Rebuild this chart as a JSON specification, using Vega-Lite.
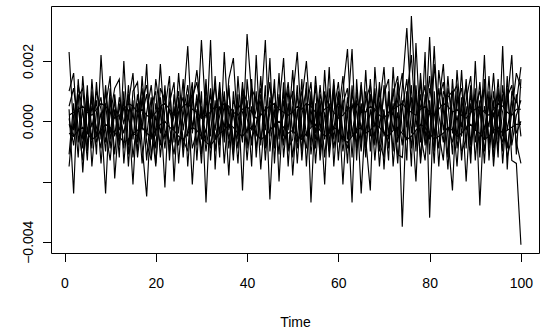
{
"$schema": "https://vega.github.io/schema/vega-lite/v6.json",
"width": 488, "height": 247,
"autosize": "none",
"padding": {"left": 51, "top": 6, "right": 11, "bottom": 82},
"background": "white",
"config": {"view": {"stroke": "black", "strokeWidth": 1}, "font": "Liberation Sans",
 "axis": {"grid": false, "domain": false, "tickColor": "black", "tickWidth": 1, "tickSize": 8.5, "labelColor": "black", "labelFontSize": 14, "titleFontSize": 14, "titleColor": "black", "titleFontWeight": "normal", "labelFont": "Liberation Sans", "titleFont": "Liberation Sans"}},
"data": {"values": [
{"t":1,"a":0.0023,"b":0.0010,"c":0.0004,"d":-0.0011,"e":0.0001,"f":-0.0015,"g":0.0005,"h":-0.0001,"i":-0.0004,"j":0.0002},
{"t":2,"a":-0.0003,"b":0.0016,"c":-0.0024,"d":0.0006,"e":-0.0008,"f":0.0002,"g":0.0011,"h":-0.0005,"i":-0.0005,"j":0.0003},
{"t":3,"a":0.0009,"b":-0.0007,"c":0.0014,"d":-0.0012,"e":0.0005,"f":0.0008,"g":-0.0002,"h":0.0012,"i":-0.0003,"j":0.0004},
{"t":4,"a":-0.0017,"b":0.0004,"c":-0.0006,"d":0.0015,"e":-0.0009,"f":0.0011,"g":-0.0013,"h":0.0003,"i":-0.0002,"j":0.0005},
{"t":5,"a":0.0006,"b":-0.0013,"c":0.0009,"d":-0.0004,"e":0.0012,"f":-0.0008,"g":0.0007,"h":-0.0010,"i":-0.0004,"j":0.0003},
{"t":6,"a":-0.0009,"b":0.0014,"c":-0.0002,"d":0.0008,"e":-0.0015,"f":0.0005,"g":-0.0006,"h":0.0010,"i":-0.0006,"j":0.0002},
{"t":7,"a":0.0013,"b":-0.0005,"c":0.0007,"d":-0.0011,"e":0.0003,"f":-0.0002,"g":0.0010,"h":-0.0007,"i":-0.0005,"j":0.0004},
{"t":8,"a":-0.0006,"b":0.0003,"c":-0.0014,"d":0.0022,"e":0.0008,"f":-0.0009,"g":0.0004,"h":-0.0002,"i":-0.0003,"j":0.0006},
{"t":9,"a":0.0010,"b":-0.0024,"c":0.0005,"d":-0.0003,"e":-0.0007,"f":0.0012,"g":-0.0010,"h":0.0006,"i":-0.0001,"j":0.0005},
{"t":10,"a":-0.0004,"b":0.0008,"c":0.0015,"d":-0.0013,"e":0.0002,"f":-0.0006,"g":0.0011,"h":-0.0009,"i":-0.0002,"j":0.0003},
{"t":11,"a":0.0007,"b":-0.0011,"c":-0.0019,"d":0.0004,"e":0.0011,"f":0.0003,"g":-0.0005,"h":0.0009,"i":-0.0004,"j":0.0001},
{"t":12,"a":-0.0012,"b":0.0006,"c":0.0002,"d":-0.0008,"e":0.0014,"f":-0.0003,"g":0.0008,"h":-0.0006,"i":-0.0005,"j":0.0002},
{"t":13,"a":0.0020,"b":-0.0009,"c":-0.0004,"d":0.0010,"e":-0.0014,"f":0.0007,"g":-0.0001,"h":0.0005,"i":-0.0007,"j":0.0004},
{"t":14,"a":-0.0008,"b":0.0012,"c":0.0006,"d":-0.0015,"e":0.0004,"f":-0.0011,"g":0.0009,"h":0.0001,"i":-0.0006,"j":0.0006},
{"t":15,"a":0.0003,"b":-0.0006,"c":0.0016,"d":0.0007,"e":-0.0021,"f":0.0010,"g":-0.0012,"h":-0.0004,"i":-0.0004,"j":0.0005},
{"t":16,"a":-0.0010,"b":0.0009,"c":-0.0007,"d":-0.0012,"e":0.0006,"f":0.0013,"g":0.0002,"h":-0.0005,"i":-0.0003,"j":0.0003},
{"t":17,"a":0.0015,"b":-0.0003,"c":0.0008,"d":0.0002,"e":-0.0014,"f":-0.0008,"g":0.0011,"h":0.0007,"i":-0.0002,"j":0.0004},
{"t":18,"a":-0.0005,"b":0.0019,"c":-0.0013,"d":0.0009,"e":0.0003,"f":-0.0025,"g":-0.0007,"h":0.0012,"i":-0.0004,"j":0.0002},
{"t":19,"a":0.0008,"b":-0.0012,"c":0.0005,"d":-0.0006,"e":0.0012,"f":0.0004,"g":-0.0013,"h":-0.0001,"i":-0.0005,"j":0.0001},
{"t":20,"a":-0.0014,"b":0.0002,"c":0.0010,"d":0.0014,"e":-0.0005,"f":-0.0009,"g":0.0006,"h":-0.0015,"i":-0.0003,"j":0.0003},
{"t":21,"a":0.0005,"b":-0.0008,"c":-0.0012,"d":0.0003,"e":0.0019,"f":0.0011,"g":-0.0004,"h":0.0008,"i":-0.0001,"j":0.0005},
{"t":22,"a":-0.0022,"b":0.0012,"c":0.0004,"d":-0.0009,"e":-0.0003,"f":0.0007,"g":0.0010,"h":-0.0006,"i":0,"j":0.0006},
{"t":23,"a":0.0011,"b":-0.0013,"c":0.0015,"d":0.0006,"e":-0.0007,"f":-0.0002,"g":-0.0010,"h":0.0004,"i":-0.0002,"j":0.0004},
{"t":24,"a":-0.0007,"b":0.0009,"c":-0.0020,"d":0.0013,"e":0.0002,"f":-0.0011,"g":0.0005,"h":-0.0003,"i":-0.0003,"j":0.0002},
{"t":25,"a":0.0016,"b":-0.0004,"c":0.0008,"d":-0.0014,"e":0.0010,"f":0.0003,"g":-0.0008,"h":0.0006,"i":-0.0005,"j":0.0003},
{"t":26,"a":-0.0003,"b":0.0014,"c":-0.0009,"d":0.0005,"e":-0.0012,"f":0.0008,"g":0.0002,"h":-0.0006,"i":-0.0006,"j":0.0005},
{"t":27,"a":0.0009,"b":-0.0015,"c":0.0003,"d":0.0025,"e":0.0007,"f":-0.0005,"g":0.0012,"h":-0.0010,"i":-0.0004,"j":0.0006},
{"t":28,"a":-0.0021,"b":0.0006,"c":0.0013,"d":-0.0004,"e":-0.0009,"f":0.0011,"g":-0.0002,"h":0.0008,"i":-0.0002,"j":0.0004},
{"t":29,"a":0.0004,"b":0.0017,"c":-0.0013,"d":0.0009,"e":-0.0003,"f":-0.0008,"g":0.0007,"h":0.0013,"i":-0.0003,"j":0.0003},
{"t":30,"a":-0.0014,"b":0.0003,"c":0.0010,"d":-0.0006,"e":0.0027,"f":0.0005,"g":-0.0011,"h":0.0002,"i":-0.0005,"j":0.0001},
{"t":31,"a":0.0012,"b":-0.0007,"c":-0.0027,"d":0.0014,"e":0.0001,"f":-0.0010,"g":0.0008,"h":-0.0004,"i":-0.0007,"j":0.0002},
{"t":32,"a":-0.0005,"b":0.0027,"c":0.0006,"d":-0.0013,"e":0.0009,"f":0.0003,"g":-0.0009,"h":0.0011,"i":-0.0008,"j":0.0003},
{"t":33,"a":0.0015,"b":-0.0016,"c":-0.0003,"d":0.0007,"e":-0.0010,"f":0.0012,"g":0.0004,"h":-0.0006,"i":-0.0006,"j":0.0005},
{"t":34,"a":-0.0008,"b":0.0011,"c":0.0013,"d":-0.0012,"e":0.0005,"f":-0.0004,"g":0.0009,"h":0.0002,"i":-0.0004,"j":0.0004},
{"t":35,"a":0.0006,"b":-0.0014,"c":-0.0007,"d":0.0023,"e":-0.0002,"f":0.0010,"g":-0.0005,"h":0.0008,"i":-0.0003,"j":0.0006},
{"t":36,"a":-0.0018,"b":0.0005,"c":0.0014,"d":-0.0003,"e":0.0011,"f":-0.0009,"g":0.0012,"h":-0.0006,"i":-0.0001,"j":0.0005},
{"t":37,"a":0.0010,"b":-0.0013,"c":0.0021,"d":0.0004,"e":-0.0008,"f":0.0007,"g":-0.0011,"h":0.0003,"i":-0.0002,"j":0.0003},
{"t":38,"a":-0.0006,"b":0.0015,"c":-0.0004,"d":-0.0014,"e":0.0009,"f":0.0002,"g":0.0006,"h":-0.0009,"i":-0.0004,"j":0.0002},
{"t":39,"a":0.0013,"b":-0.0005,"c":0.0008,"d":0.0011,"e":-0.0023,"f":-0.0007,"g":0.0003,"h":0.0010,"i":-0.0005,"j":0.0004},
{"t":40,"a":-0.0009,"b":0.0007,"c":-0.0013,"d":0.0006,"e":0.0014,"f":0.0029,"g":-0.0004,"h":0.0001,"i":-0.0003,"j":0.0005},
{"t":41,"a":0.0014,"b":-0.0015,"c":0.0005,"d":-0.0008,"e":-0.0003,"f":0.0009,"g":0.0011,"h":-0.0006,"i":-0.0002,"j":0.0003},
{"t":42,"a":-0.0012,"b":0.0022,"c":-0.0005,"d":0.0010,"e":0.0004,"f":-0.0009,"g":0.0007,"h":-0.0001,"i":-0.0004,"j":0.0001},
{"t":43,"a":0.0007,"b":-0.0008,"c":0.0015,"d":-0.0016,"e":0.0011,"f":0.0003,"g":-0.0006,"h":0.0009,"i":-0.0006,"j":0.0002},
{"t":44,"a":-0.0003,"b":0.0012,"c":-0.0009,"d":0.0005,"e":-0.0013,"f":0.0027,"g":0.0002,"h":-0.0007,"i":-0.0005,"j":0.0004},
{"t":45,"a":0.0021,"b":-0.0026,"c":0.0006,"d":-0.0005,"e":0.0008,"f":-0.0010,"g":0.0013,"h":0.0003,"i":-0.0003,"j":0.0005},
{"t":46,"a":-0.0014,"b":0.0004,"c":-0.0007,"d":0.0014,"e":-0.0002,"f":0.0006,"g":-0.0009,"h":0.0011,"i":-0.0001,"j":0.0006},
{"t":47,"a":0.0009,"b":-0.0011,"c":0.0016,"d":-0.0020,"e":0.0005,"f":-0.0004,"g":0.0008,"h":-0.0006,"i":0,"j":0.0004},
{"t":48,"a":-0.0005,"b":0.0013,"c":-0.0012,"d":0.0007,"e":0.0021,"f":0.0002,"g":-0.0008,"h":0.0010,"i":-0.0002,"j":0.0003},
{"t":49,"a":0.0011,"b":-0.0015,"c":0.0004,"d":-0.0003,"e":-0.0009,"f":0.0013,"g":0.0006,"h":-0.0010,"i":-0.0004,"j":0.0002},
{"t":50,"a":-0.0018,"b":0.0008,"c":0.0010,"d":0.0017,"e":-0.0006,"f":-0.0004,"g":-0.0012,"h":0.0005,"i":-0.0003,"j":0.0003},
{"t":51,"a":0.0004,"b":0.0023,"c":-0.0014,"d":-0.0007,"e":0.0012,"f":0.0009,"g":0.0003,"h":-0.0009,"i":-0.0005,"j":0.0005},
{"t":52,"a":-0.0010,"b":-0.0003,"c":0.0007,"d":0.0014,"e":-0.0013,"f":-0.0006,"g":0.0010,"h":0.0002,"i":-0.0006,"j":0.0004},
{"t":53,"a":0.0013,"b":-0.0009,"c":0.0020,"d":-0.0015,"e":0.0006,"f":0.0004,"g":-0.0005,"h":0.0011,"i":-0.0004,"j":0.0006},
{"t":54,"a":-0.0027,"b":0.0010,"c":-0.0002,"d":0.0008,"e":-0.0008,"f":0.0013,"g":0.0004,"h":-0.0011,"i":-0.0002,"j":0.0005},
{"t":55,"a":0.0006,"b":-0.0014,"c":0.0012,"d":-0.0004,"e":0.0015,"f":-0.0009,"g":-0.0006,"h":0.0003,"i":-0.0001,"j":0.0003},
{"t":56,"a":-0.0011,"b":0.0005,"c":-0.0013,"d":0.0012,"e":-0.0003,"f":0.0007,"g":0.0009,"h":-0.0008,"i":-0.0003,"j":0.0002},
{"t":57,"a":0.0017,"b":-0.0021,"c":0.0003,"d":-0.0006,"e":0.0010,"f":-0.0012,"g":0.0002,"h":0.0009,"i":-0.0005,"j":0.0004},
{"t":58,"a":-0.0008,"b":0.0011,"c":-0.0004,"d":0.0018,"e":-0.0012,"f":0.0006,"g":-0.0010,"h":0.0005,"i":-0.0004,"j":0.0005},
{"t":59,"a":0.0010,"b":-0.0006,"c":0.0014,"d":-0.0015,"e":0.0003,"f":-0.0009,"g":0.0012,"h":-0.0003,"i":-0.0002,"j":0.0003},
{"t":60,"a":-0.0013,"b":0.0008,"c":-0.0007,"d":0.0005,"e":0.0013,"f":0.0002,"g":-0.0005,"h":0.0010,"i":-0.0003,"j":0.0001},
{"t":61,"a":0.0007,"b":-0.0021,"c":0.0010,"d":-0.0010,"e":-0.0004,"f":0.0015,"g":0.0006,"h":-0.0007,"i":-0.0006,"j":0.0002},
{"t":62,"a":-0.0014,"b":0.0005,"c":0.0024,"d":0.0003,"e":-0.0009,"f":-0.0006,"g":0.0011,"h":0.0008,"i":-0.0007,"j":0.0004},
{"t":63,"a":0.0012,"b":-0.0027,"c":-0.0005,"d":0.0024,"e":0.0006,"f":0.0009,"g":-0.0012,"h":-0.0003,"i":-0.0005,"j":0.0005},
{"t":64,"a":-0.0009,"b":0.0014,"c":0.0007,"d":-0.0013,"e":-0.0004,"f":0.0003,"g":0.0010,"h":-0.0007,"i":-0.0003,"j":0.0006},
{"t":65,"a":0.0005,"b":-0.0008,"c":-0.0024,"d":0.0012,"e":0.0013,"f":-0.0010,"g":-0.0003,"h":0.0006,"i":-0.0002,"j":0.0004},
{"t":66,"a":-0.0012,"b":0.0017,"c":0.0003,"d":-0.0006,"e":-0.0009,"f":0.0010,"g":0.0007,"h":-0.0004,"i":-0.0004,"j":0.0003},
{"t":67,"a":0.0014,"b":-0.0010,"c":0.0008,"d":-0.0023,"e":0.0004,"f":-0.0005,"g":0.0012,"h":0.0009,"i":-0.0003,"j":0.0005},
{"t":68,"a":-0.0006,"b":0.0009,"c":-0.0013,"d":0.0018,"e":-0.0008,"f":0.0011,"g":-0.0002,"h":0.0003,"i":-0.0001,"j":0.0004},
{"t":69,"a":0.0011,"b":-0.0015,"c":0.0005,"d":-0.0002,"e":0.0013,"f":-0.0007,"g":0.0006,"h":-0.0010,"i":-0.0002,"j":0.0002},
{"t":70,"a":-0.0016,"b":0.0004,"c":0.0018,"d":0.0009,"e":-0.0005,"f":-0.0012,"g":0.0003,"h":0.0012,"i":-0.0004,"j":0.0001},
{"t":71,"a":0.0008,"b":-0.0013,"c":-0.0006,"d":0.0014,"e":0.0002,"f":0.0010,"g":-0.0009,"h":-0.0004,"i":-0.0005,"j":0.0003},
{"t":72,"a":-0.0010,"b":0.0018,"c":0.0004,"d":-0.0015,"e":0.0009,"f":-0.0003,"g":0.0011,"h":0.0006,"i":-0.0003,"j":0.0004},
{"t":73,"a":0.0013,"b":-0.0005,"c":-0.0014,"d":0.0003,"e":0.0015,"f":0.0007,"g":-0.0007,"h":-0.0011,"i":-0.0002,"j":0.0005},
{"t":74,"a":-0.0035,"b":0.0011,"c":0.0007,"d":-0.0008,"e":-0.0003,"f":0.0016,"g":0.0004,"h":-0.0012,"i":-0.0004,"j":0.0006},
{"t":75,"a":0.0006,"b":0.0031,"c":-0.0013,"d":0.0010,"e":-0.0006,"f":-0.0002,"g":0.0014,"h":0.0008,"i":-0.0006,"j":0.0004},
{"t":76,"a":-0.0009,"b":0.0004,"c":0.0035,"d":-0.0015,"e":0.0012,"f":0.0008,"g":-0.0004,"h":0.0022,"i":-0.0005,"j":0.0003},
{"t":77,"a":0.0012,"b":-0.0020,"c":0.0005,"d":0.0026,"e":-0.0010,"f":-0.0007,"g":0.0010,"h":-0.0002,"i":-0.0003,"j":0.0002},
{"t":78,"a":-0.0007,"b":0.0014,"c":-0.0012,"d":-0.0004,"e":0.0016,"f":0.0005,"g":-0.0014,"h":0.0009,"i":-0.0001,"j":0.0004},
{"t":79,"a":0.0023,"b":-0.0003,"c":0.0009,"d":-0.0013,"e":-0.0006,"f":0.0012,"g":0.0002,"h":-0.0008,"i":-0.0002,"j":0.0005},
{"t":80,"a":-0.0032,"b":0.0028,"c":-0.0006,"d":0.0007,"e":0.0011,"f":-0.0011,"g":0.0015,"h":0.0004,"i":-0.0004,"j":0.0003},
{"t":81,"a":0.0010,"b":-0.0008,"c":0.0025,"d":-0.0014,"e":0.0003,"f":0.0019,"g":-0.0005,"h":-0.0010,"i":-0.0006,"j":0.0002},
{"t":82,"a":-0.0015,"b":0.0006,"c":-0.0004,"d":0.0017,"e":-0.0009,"f":0.0002,"g":0.0011,"h":0.0007,"i":-0.0005,"j":0.0004},
{"t":83,"a":0.0008,"b":0.0019,"c":-0.0013,"d":0.0004,"e":0.0010,"f":-0.0007,"g":-0.0003,"h":0.0013,"i":-0.0004,"j":0.0006},
{"t":84,"a":-0.0012,"b":-0.0005,"c":0.0011,"d":-0.0016,"e":0.0006,"f":0.0015,"g":0.0008,"h":-0.0002,"i":-0.0002,"j":0.0005},
{"t":85,"a":0.0014,"b":-0.0023,"c":0.0003,"d":0.0009,"e":-0.0011,"f":-0.0004,"g":0.0010,"h":-0.0007,"i":-0.0003,"j":0.0003},
{"t":86,"a":-0.0006,"b":0.0010,"c":-0.0015,"d":0.0012,"e":0.0017,"f":0.0006,"g":-0.0009,"h":0.0002,"i":-0.0005,"j":0.0004},
{"t":87,"a":0.0017,"b":-0.0013,"c":0.0008,"d":-0.0005,"e":-0.0002,"f":0.0011,"g":0.0004,"h":-0.0010,"i":-0.0004,"j":0.0002},
{"t":88,"a":-0.0009,"b":0.0005,"c":-0.0020,"d":0.0014,"e":0.0007,"f":-0.0003,"g":0.0012,"h":-0.0006,"i":-0.0002,"j":0.0001},
{"t":89,"a":0.0012,"b":-0.0014,"c":0.0006,"d":-0.0008,"e":0.0015,"f":0.0003,"g":-0.0011,"h":0.0009,"i":-0.0001,"j":0.0003},
{"t":90,"a":-0.0013,"b":0.0020,"c":-0.0003,"d":0.0011,"e":-0.0007,"f":0.0009,"g":0.0005,"h":-0.0002,"i":-0.0003,"j":0.0004},
{"t":91,"a":0.0007,"b":-0.0009,"c":0.0013,"d":-0.0028,"e":0.0004,"f":-0.0012,"g":0.0010,"h":0.0006,"i":-0.0004,"j":0.0005},
{"t":92,"a":-0.0014,"b":0.0022,"c":-0.0006,"d":0.0005,"e":-0.0010,"f":0.0014,"g":-0.0003,"h":0.0011,"i":-0.0006,"j":0.0003},
{"t":93,"a":0.0010,"b":-0.0013,"c":0.0015,"d":-0.0002,"e":0.0008,"f":-0.0007,"g":0.0006,"h":-0.0009,"i":-0.0005,"j":0.0002},
{"t":94,"a":-0.0015,"b":0.0007,"c":-0.0009,"d":0.0016,"e":-0.0004,"f":0.0003,"g":-0.0012,"h":0.0010,"i":-0.0003,"j":0.0004},
{"t":95,"a":0.0004,"b":-0.0012,"c":0.0011,"d":-0.0006,"e":0.0014,"f":-0.0009,"g":0.0008,"h":-0.0003,"i":-0.0002,"j":0.0006},
{"t":96,"a":-0.0010,"b":0.0025,"c":-0.0014,"d":0.0009,"e":-0.0005,"f":0.0012,"g":0.0003,"h":-0.0007,"i":-0.0004,"j":0.0005},
{"t":97,"a":0.0015,"b":-0.0016,"c":0.0006,"d":-0.0009,"e":0.0011,"f":-0.0003,"g":-0.0012,"h":0.0008,"i":-0.0003,"j":0.0003},
{"t":98,"a":-0.0013,"b":0.0010,"c":0.0022,"d":0.0003,"e":-0.0008,"f":0.0007,"g":-0.0005,"h":0.0012,"i":-0.0002,"j":0.0002},
{"t":99,"a":-0.0014,"b":0.0006,"c":-0.0011,"d":0.0016,"e":0.0002,"f":-0.0007,"g":0.0009,"h":-0.0004,"i":-0.0001,"j":0.0004},
{"t":100,"a":-0.0041,"b":0.0018,"c":0.0014,"d":0.0011,"e":0.0007,"f":-0.0014,"g":-0.0005,"h":0,"i":-0.0001,"j":0.0004}
]},
"transform": [{"fold": ["a","b","c","d","e","f","g","h","i","j"], "as": ["series","value"]}],
"mark": {"type": "line", "color": "black", "strokeWidth": 1.15, "clip": true},
"encoding": {
 "x": {"field": "t", "type": "quantitative",
  "scale": {"domain": [-2.96, 103.96], "nice": false, "zero": false},
  "axis": {"values": [0,20,40,60,80,100], "title": "Time", "labelBaseline": "alphabetic", "labelPadding": 25.5, "labelFlush": false, "labelOverlap": false, "titleBaseline": "alphabetic", "titleY": 73}},
 "y": {"field": "value", "type": "quantitative",
  "scale": {"domain": [-0.004375, 0.00383], "nice": false, "zero": false},
  "axis": {"values": [-0.004,-0.002,0,0.002], "title": null, "labelAngle": 270, "labelAlign": "center", "labelBaseline": "bottom", "labelPadding": 7, "labelFlush": false, "labelOverlap": false,
   "labelExpr": "abs(datum.value + 0.002) < 1e-9 ? '' : replace(format(datum.value, '.3f'), '-', '\u2212')"}},
 "detail": {"field": "series"}
}
}
